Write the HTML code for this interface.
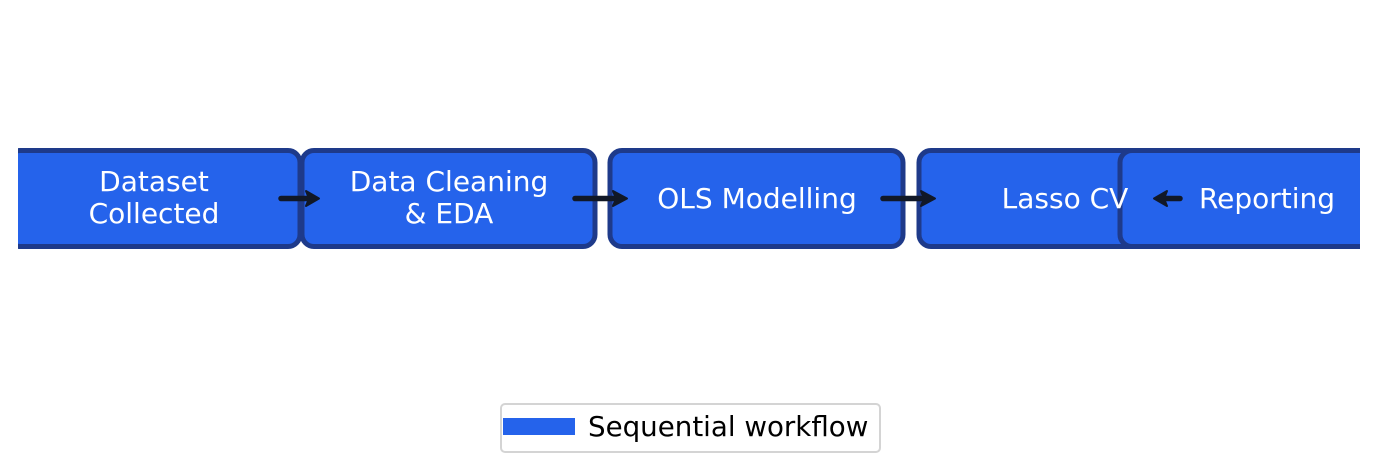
<!DOCTYPE html>
<html><head><meta charset="utf-8"><style>
html,body{margin:0;padding:0;background:#fff;}
svg{display:block;font-family:"DejaVu Sans","Liberation Sans",sans-serif;}
</style></head><body>
<svg width="1380" height="473" viewBox="0 0 1380 473">
<defs><clipPath id="c"><rect x="18" y="0" width="1342" height="473"/></clipPath></defs>
<g clip-path="url(#c)" stroke="#1e3a8a" stroke-width="5" fill="#2563eb">
<rect x="8" y="150.5" width="292" height="96" rx="12"/>
<rect x="302" y="150.5" width="293" height="96" rx="12"/>
<rect x="610" y="150.5" width="293" height="96" rx="12"/>
<rect x="919" y="150.5" width="293" height="96" rx="12"/>
<rect x="1120" y="150.5" width="293" height="96" rx="12"/>
</g>
<g fill="#fff" font-size="28" text-anchor="middle">
<text x="154" y="191">Dataset</text>
<text x="154" y="223">Collected</text>
<text x="449" y="191">Data Cleaning</text>
<text x="449" y="223">&amp; EDA</text>
<text x="757" y="208">OLS Modelling</text>
<text x="1065" y="208">Lasso CV</text>
<text x="1267" y="208">Reporting</text>
</g>
<g stroke="#111827" stroke-width="5.5" stroke-linecap="round" fill="#111827">
<line x1="281" y1="198.5" x2="310" y2="198.5"/>
<line x1="575" y1="198.5" x2="617" y2="198.5"/>
<line x1="883" y1="198.5" x2="925" y2="198.5"/>
<line x1="1180" y1="198.5" x2="1163" y2="198.5"/>
</g>
<g fill="#111827" stroke="#111827" stroke-width="2" stroke-linejoin="round">
<polygon points="306,191 319,198.5 306,206 309,198.5"/>
<polygon points="613,191 627,198.5 613,206 616,198.5"/>
<polygon points="921,191 935,198.5 921,206 924,198.5"/>
<polygon points="1167,191 1154,198.5 1167,206 1164,198.5"/>
</g>
<rect x="501" y="404" width="379" height="48" rx="4" fill="#fff" stroke="#d4d4d4" stroke-width="2"/>
<rect x="503" y="418" width="72" height="17" fill="#2563eb"/>
<text x="588" y="436" font-size="27.7" fill="#000">Sequential workflow</text>
</svg>
</body></html>
